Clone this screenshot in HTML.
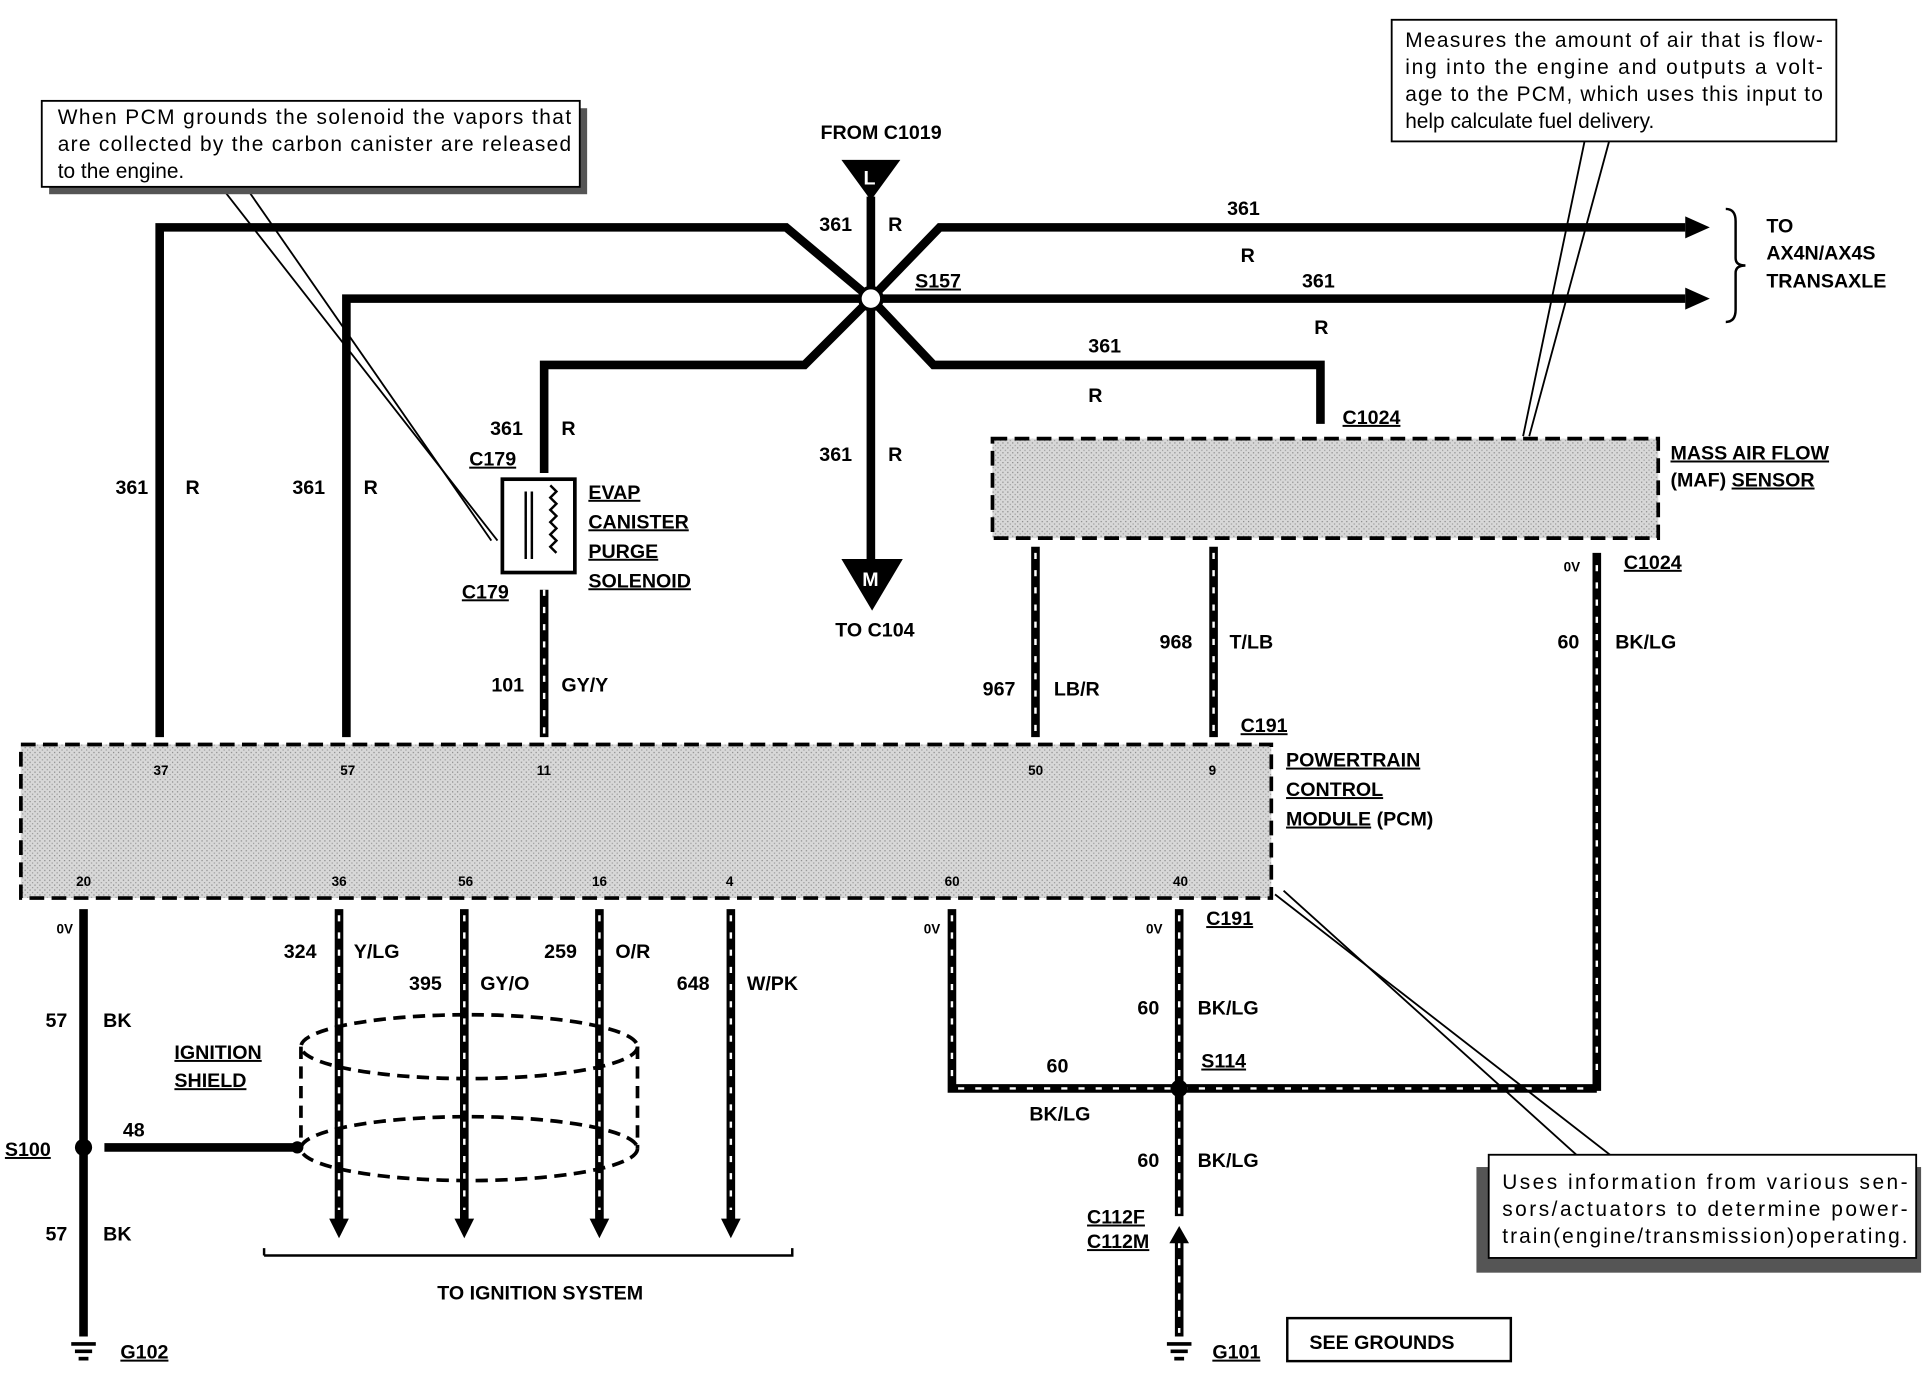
<!DOCTYPE html>
<html><head><meta charset="utf-8"><style>
html,body{margin:0;padding:0;background:#fff}
svg{display:block}
text{font-family:"Liberation Sans",sans-serif;font-weight:bold;font-size:16px;fill:#000}
.n{font-weight:normal;font-size:17px}
.s{font-size:11px}
</style></head><body>
<svg width="1926" height="1376" viewBox="0 0 1568 1120" xmlns="http://www.w3.org/2000/svg">
<defs>
<pattern id="g" width="4" height="4" patternUnits="userSpaceOnUse"><rect width="4" height="4" fill="#d8d8d8"/><rect width="1" height="1" fill="#888"/><rect x="2" y="2" width="1" height="1" fill="#999"/></pattern>
</defs>
<g fill="none" stroke="#000" stroke-width="7" stroke-linejoin="miter">
<polyline points="130,600 130,185 640,185 709,243"/>
<polyline points="282,600 282,243 709,243"/>
<polyline points="443,385 443,297 655,297 709,243"/>
<polyline points="709,243 765,185 1372,185"/>
<polyline points="709,243 1372,243"/>
<polyline points="709,243 760,297 1075,297 1075,345"/>
<line x1="709" y1="160" x2="709" y2="460"/>
<line x1="443" y1="480" x2="443" y2="600"/>
<line x1="843" y1="445" x2="843" y2="600"/>
<line x1="988" y1="445" x2="988" y2="600"/>
<line x1="1300" y1="450" x2="1300" y2="888"/>
<line x1="68" y1="740" x2="68" y2="1088"/>
<line x1="85" y1="934" x2="240" y2="934"/>
<line x1="276" y1="740" x2="276" y2="995"/>
<line x1="378" y1="740" x2="378" y2="995"/>
<line x1="488" y1="740" x2="488" y2="995"/>
<line x1="595" y1="740" x2="595" y2="995"/>
<polyline points="775,740 775,886 1300,886"/>
<line x1="960" y1="740" x2="960" y2="990"/>
<line x1="960" y1="1010" x2="960" y2="1088"/>
</g>
<g stroke="#fff" stroke-width="2" stroke-dasharray="5 9">
<line x1="443" y1="480" x2="443" y2="598"/>
<line x1="843" y1="450" x2="843" y2="598"/>
<line x1="988" y1="450" x2="988" y2="598"/>
<line x1="1300" y1="460" x2="1300" y2="880"/>
<line x1="276" y1="745" x2="276" y2="985"/>
<line x1="378" y1="745" x2="378" y2="985"/>
<line x1="488" y1="745" x2="488" y2="985"/>
<line x1="595" y1="745" x2="595" y2="985"/>
<line x1="775" y1="745" x2="775" y2="880"/>
<line x1="780" y1="886" x2="1295" y2="886"/>
<line x1="960" y1="745" x2="960" y2="1085"/>
</g>
<g fill="#000">
<polygon points="1372,176 1392,185 1372,194"/>
<polygon points="1372,234 1392,243 1372,252"/>
<polygon points="268,992 276,1008 284,992"/>
<polygon points="370,992 378,1008 386,992"/>
<polygon points="480,992 488,1008 496,992"/>
<polygon points="587,992 595,1008 603,992"/>
<polygon points="952,1012 960,998 968,1012"/>
<polygon points="685,130 733,130 709,163"/>
<polygon points="685,455 735,455 710,497"/>
<circle cx="68" cy="934" r="7"/><circle cx="242" cy="934" r="5"/><circle cx="960" cy="886" r="7"/>
</g>
<circle cx="709" cy="243" r="9" fill="#fff" stroke="#000" stroke-width="3"/>
<text x="703" y="150" style="fill:#fff">L</text>
<text x="702" y="477" style="fill:#fff">M</text>
<rect x="808" y="357" width="542" height="81" fill="url(#g)" stroke="#000" stroke-width="3" stroke-dasharray="12 6"/>
<rect x="17" y="606" width="1018" height="125" fill="url(#g)" stroke="#000" stroke-width="3" stroke-dasharray="12 6"/>
<rect x="409" y="390" width="59" height="76" fill="#fff" stroke="#000" stroke-width="3"/>
<path d="M428,400 v55 M433,400 v55 M448,395 l5,5 -5,5 5,5 -5,5 5,5 -5,5 5,5 -5,5 5,5 -5,5 5,5" fill="none" stroke="#000" stroke-width="2"/>
<g fill="none" stroke="#000" stroke-width="3" stroke-dasharray="10 6">
<ellipse cx="382" cy="852" rx="137" ry="26"/>
<ellipse cx="382" cy="935" rx="137" ry="26"/>
<line x1="245" y1="852" x2="245" y2="935"/><line x1="519" y1="852" x2="519" y2="935"/>
</g>
<path d="M215,1022 v-6 M215,1022 H645 v-6" fill="none" stroke="#000" stroke-width="2"/>
<path d="M1405,170 q8,0 8,10 v30 q0,6 8,6 q-8,0 -8,6 v30 q0,10 -8,10" fill="none" stroke="#000" stroke-width="2"/>
<g stroke="#000" stroke-width="3"><line x1="58" y1="1094" x2="78" y2="1094"/><line x1="61" y1="1100" x2="75" y2="1100"/><line x1="64" y1="1106" x2="72" y2="1106"/>
<line x1="950" y1="1094" x2="970" y2="1094"/><line x1="953" y1="1100" x2="967" y2="1100"/><line x1="956" y1="1106" x2="964" y2="1106"/></g>
<rect x="1048" y="1073" width="182" height="35" fill="#fff" stroke="#000" stroke-width="2"/>
<text x="1066" y="1098">SEE GROUNDS</text>
<g stroke="#000" stroke-width="1.5" fill="none">
<polyline points="180,152 405,440"/><polyline points="200,152 400,440"/>
<polyline points="1290,115 1240,355"/><polyline points="1310,115 1245,355"/>
<polyline points="1038,728 1330,955"/><polyline points="1045,725 1300,955"/>
</g>
<rect x="40" y="88" width="438" height="70" fill="#555"/>
<rect x="34" y="82" width="438" height="70" fill="#fff" stroke="#000" stroke-width="1.5"/>
<text class="n" x="47" y="101" textLength="418">When PCM grounds the solenoid the vapors that</text>
<text class="n" x="47" y="123" textLength="418">are collected by the carbon canister are released</text>
<text class="n" x="47" y="145">to the engine.</text>
<rect x="1133" y="16" width="362" height="99" fill="#fff" stroke="#000" stroke-width="1.5"/>
<text class="n" x="1144" y="38" textLength="340">Measures the amount of air that is flow-</text>
<text class="n" x="1144" y="60" textLength="340">ing into the engine and outputs a volt-</text>
<text class="n" x="1144" y="82" textLength="340">age to the PCM, which uses this input to</text>
<text class="n" x="1144" y="104">help calculate fuel  delivery.</text>
<rect x="1202" y="950" width="362" height="86" fill="#555"/>
<rect x="1212" y="940" width="348" height="84" fill="#fff" stroke="#000" stroke-width="1.5"/>
<text class="n" x="1223" y="968" textLength="330">Uses information from various sen-</text>
<text class="n" x="1223" y="990" textLength="330">sors/actuators to determine power-</text>
<text class="n" x="1223" y="1012" textLength="330">train(engine/transmission)operating.</text>
<text x="668" y="113">FROM C1019</text>
<text x="667" y="188">361</text><text x="723" y="188">R</text>
<text x="999" y="175">361</text><text x="1010" y="213">R</text>
<text x="1060" y="234">361</text><text x="1070" y="272">R</text>
<text x="745" y="234" text-decoration="underline">S157</text>
<text x="886" y="287">361</text><text x="886" y="327">R</text>
<text x="1093" y="345" text-decoration="underline">C1024</text>
<text x="1360" y="374" text-decoration="underline">MASS AIR FLOW</text>
<text x="1360" y="396">(MAF) <tspan text-decoration="underline">SENSOR</tspan></text>
<text x="1438" y="189">TO</text><text x="1438" y="211">AX4N/AX4S</text><text x="1438" y="234">TRANSAXLE</text>
<text x="399" y="354">361</text><text x="457" y="354">R</text>
<text x="382" y="379" text-decoration="underline">C179</text>
<text x="376" y="487" text-decoration="underline">C179</text>
<text x="479" y="406" text-decoration="underline">EVAP</text>
<text x="479" y="430" text-decoration="underline">CANISTER</text>
<text x="479" y="454" text-decoration="underline">PURGE</text>
<text x="479" y="478" text-decoration="underline">SOLENOID</text>
<text x="667" y="375">361</text><text x="723" y="375">R</text>
<text x="680" y="518">TO C104</text>
<text x="94" y="402">361</text><text x="151" y="402">R</text>
<text x="238" y="402">361</text><text x="296" y="402">R</text>
<text x="400" y="563">101</text><text x="457" y="563">GY/Y</text>
<text x="800" y="566">967</text><text x="858" y="566">LB/R</text>
<text x="944" y="528">968</text><text x="1001" y="528">T/LB</text>
<text x="1268" y="528">60</text><text x="1315" y="528">BK/LG</text>
<text class="s" x="1273" y="465">0V</text>
<text x="1322" y="463" text-decoration="underline">C1024</text>
<text x="1010" y="596" text-decoration="underline">C191</text>
<text x="1047" y="624" text-decoration="underline">POWERTRAIN</text>
<text x="1047" y="648" text-decoration="underline">CONTROL</text>
<text x="1047" y="672"><tspan text-decoration="underline">MODULE</tspan> (PCM)</text>
<text class="s" x="125" y="631">37</text><text class="s" x="277" y="631">57</text><text class="s" x="437" y="631">11</text><text class="s" x="837" y="631">50</text><text class="s" x="984" y="631">9</text>
<text class="s" x="62" y="721">20</text><text class="s" x="270" y="721">36</text><text class="s" x="373" y="721">56</text><text class="s" x="482" y="721">16</text><text class="s" x="591" y="721">4</text><text class="s" x="769" y="721">60</text><text class="s" x="955" y="721">40</text>
<text class="s" x="46" y="760">0V</text><text class="s" x="752" y="760">0V</text><text class="s" x="933" y="760">0V</text>
<text x="982" y="753" text-decoration="underline">C191</text>
<text x="37" y="836">57</text><text x="84" y="836">BK</text>
<text x="231" y="780">324</text><text x="288" y="780">Y/LG</text>
<text x="333" y="806">395</text><text x="391" y="806">GY/O</text>
<text x="443" y="780">259</text><text x="501" y="780">O/R</text>
<text x="551" y="806">648</text><text x="608" y="806">W/PK</text>
<text x="142" y="862" text-decoration="underline">IGNITION</text>
<text x="142" y="885" text-decoration="underline">SHIELD</text>
<text x="4" y="941" text-decoration="underline">S100</text>
<text x="100" y="925">48</text>
<text x="37" y="1010">57</text><text x="84" y="1010">BK</text>
<text x="356" y="1058">TO IGNITION SYSTEM</text>
<text x="98" y="1106" text-decoration="underline">G102</text>
<text x="926" y="826">60</text><text x="975" y="826">BK/LG</text>
<text x="978" y="869" text-decoration="underline">S114</text>
<text x="852" y="873">60</text><text x="838" y="912">BK/LG</text>
<text x="926" y="950">60</text><text x="975" y="950">BK/LG</text>
<text x="885" y="996" text-decoration="underline">C112F</text>
<text x="885" y="1016" text-decoration="underline">C112M</text>
<text x="987" y="1106" text-decoration="underline">G101</text>
</svg>
</body></html>
